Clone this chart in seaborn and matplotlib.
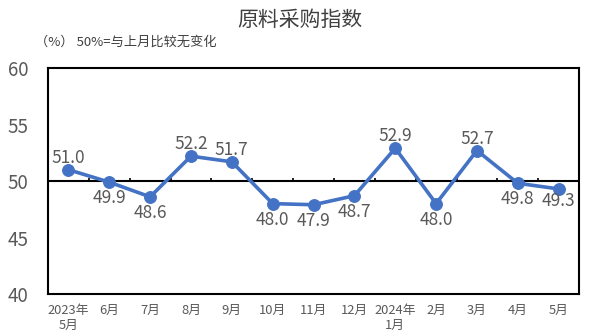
import matplotlib
matplotlib.use("Agg")
import matplotlib.pyplot as plt
import seaborn as sns
import numpy as np
import pandas as pd

months = ["2023年\n5月", "6月", "7月", "8月", "9月", "10月", "11月", "12月",
          "2024年\n1月", "2月", "3月", "4月", "5月"]
values = [51.0, 49.9, 48.6, 52.2, 51.7, 48.0, 47.9, 48.7, 52.9, 48.0, 52.7, 49.8, 49.3]
label_pos = ["above", "below", "below", "above", "above", "below", "below",
             "below", "above", "below", "above", "below", "below"]
title = "原料采购指数"
subtitle = "（%） 50%=与上月比较无变化"

sns.set_theme(style="white")
plt.rcParams["font.family"] = ["Noto Sans CJK SC", "DejaVu Sans"]

BLUE = "#4472C4"
GREY = "#595959"

fig = plt.figure(figsize=(5.97, 3.32), dpi=100)
ax = fig.add_axes([0.0804, 0.1145, 0.8896, 0.6805])

df = pd.DataFrame({"x": np.arange(len(values)), "v": values})
sns.lineplot(data=df, x="x", y="v", ax=ax, color=BLUE, linewidth=2.6,
             marker="o", markersize=8.5, markeredgecolor=BLUE, markerfacecolor=BLUE,
             zorder=4)

ax.set_xlim(-0.5, len(values) - 0.5)
ax.set_ylim(40, 60)
ax.set_yticks([40, 45, 50, 55, 60])
ax.set_xticks(np.arange(len(values)))
ax.set_xticklabels(months, fontsize=9.3, color=GREY, linespacing=1.2)
ax.tick_params(axis="x", length=0, pad=7)
ax.tick_params(axis="y", direction="in", length=3, width=1.2, color="black",
               labelsize=13.5, labelcolor=GREY, pad=14)
ax.set_xlabel("")
ax.set_ylabel("")

for s in ax.spines.values():
    s.set_color("black")
    s.set_linewidth(1.5)

# baseline at 50 with category-boundary ticks
ax.axhline(50, color="black", linewidth=1.5, zorder=3)
ax.vlines(np.arange(0.5, len(values) - 0.5), 50, 50.3, color="black", linewidth=1.2, zorder=3)

for i, (v, p) in enumerate(zip(values, label_pos)):
    if p == "above":
        off = 12
    else:
        off = -16 if i != len(values) - 1 else -12
    ax.annotate(f"{v:.1f}", (i, v), xytext=(0, off), textcoords="offset pixels",
                ha="center", va="center", fontsize=12.5, color=GREY, zorder=5)

fig.text(0.503, 0.94, title, ha="center", va="center", fontsize=15, color="#404040")
fig.text(0.059, 0.872, subtitle, ha="left", va="center", fontsize=9.5, color="#404040")

fig.savefig("out.png", dpi=100)
